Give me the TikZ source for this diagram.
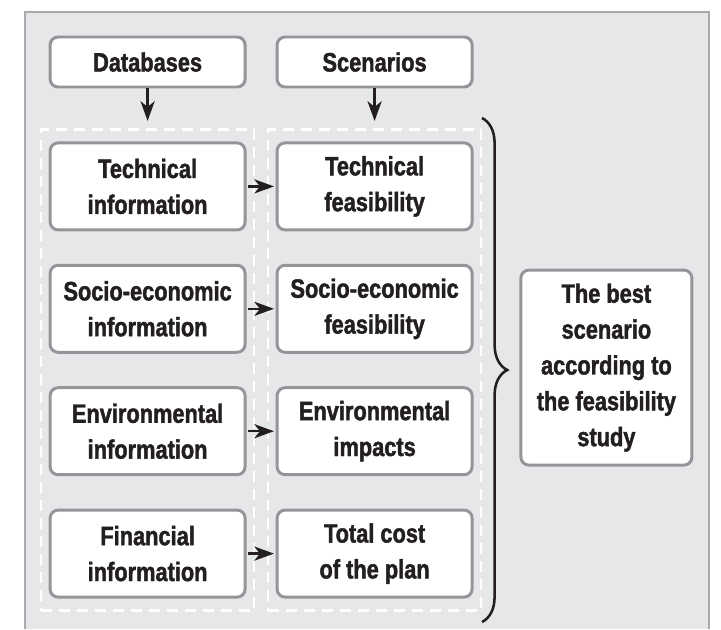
\documentclass[tikz,border=0pt]{standalone}
\usepackage{fontspec}
\setmainfont{Liberation Sans Bold}[FakeStretch=0.82, FakeBold=1.6]
\usepackage{xcolor}
\usetikzlibrary{arrows.meta, positioning, fit, decorations.pathreplacing}

\definecolor{inktext}{HTML}{231F20}
\definecolor{boxline}{HTML}{939598}
\definecolor{panelfill}{HTML}{E6E7E8}
\definecolor{panelline}{HTML}{A7A9AC}

\tikzset{
    infobox/.style={draw=boxline, line width=2.1pt, rounded corners=0.2cm, fill=white,
        minimum width=4.875cm, minimum height=2.175cm, align=center, text=inktext,
        font=\fontsize{18.9}{25.5}\selectfont, inner sep=0pt},
    headbox/.style={infobox, minimum height=1.25cm},
    dashgroup/.style={draw=white, line width=1.8pt, dash pattern=on 7.8pt off 5pt,
        inner xsep=0.19cm, inner ysep=0.3cm},
    flowarrow/.style={inktext, line width=1.8pt, ->}
}

\begin{document}
\begin{tikzpicture}[node distance=3.06cm, >={Stealth[length=14pt,width=10pt,inset=4pt]}]
        \useasboundingbox (0,0) rectangle (18.025,-15.725);

        % Background panel
        \fill[panelfill] (0.625,-0.3) rectangle (17.725,-15.725);
        \draw[panelline, line width=2.1pt] (0.625,-15.725) -- (0.625,-0.3) -- (17.725,-0.3) -- (17.725,-15.725);

        % Top nodes
        \node[headbox] (databases) at (3.69,-1.55) {Databases};
        \node[headbox, right of=databases, xshift=2.615cm] (scenarios) {Scenarios};

        % Information column
        \node[infobox, below of=databases, yshift=-0.05cm] (techinfo) {Technical\\information};
        \node[infobox, below of=techinfo] (socinfo) {Socio-economic\\information};
        \node[infobox, below of=socinfo] (envinfo) {Environmental\\information};
        \node[infobox, below of=envinfo] (fininfo) {Financial\\information};

        % Feasibility column
        \node[infobox, right of=techinfo, xshift=2.615cm] (techfeas) {Technical\\feasibility};
        \node[infobox, right of=socinfo, xshift=2.615cm] (socfeas) {Socio-economic\\feasibility};
        \node[infobox, right of=envinfo, xshift=2.615cm] (envimpact) {Environmental\\impacts};
        \node[infobox, right of=fininfo, xshift=2.615cm] (totalcost) {Total cost\\of the plan};

        % Result
        \node[infobox, minimum width=4.275cm, minimum height=4.875cm] (bestscen) at (15.16,-9.19)
            {The best\\scenario\\according to\\the feasibility\\study};

        % Dashed groups
        \node[dashgroup, fit=(techinfo)(fininfo)] (leftgroup) {};
        \node[dashgroup, fit=(techfeas)(totalcost)] (rightgroup) {};

        % Down arrows
        \draw[flowarrow, shorten >=0.18cm] (databases) -- (databases |- leftgroup.north);
        \draw[flowarrow, shorten >=0.18cm] (scenarios) -- (scenarios |- rightgroup.north);

        % Row arrows
        \draw[flowarrow, shorten <=0.04cm, shorten >=0.04cm] (techinfo) -- (techfeas);
        \draw[flowarrow, shorten <=0.04cm, shorten >=0.04cm] (socinfo) -- (socfeas);
        \draw[flowarrow, shorten <=0.04cm, shorten >=0.04cm] (envinfo) -- (envimpact);
        \draw[flowarrow, shorten <=0.04cm, shorten >=0.04cm] (fininfo) -- (totalcost);

        % Brace
        \coordinate (bracetop) at (12.05,-2.95);
        \coordinate (bracebot) at (12.05,-15.55);
        \draw[inktext, line width=1.8pt, decorate, decoration={brace, amplitude=0.63cm}] (bracetop) -- (bracebot);
    \end{tikzpicture}
\end{document}
